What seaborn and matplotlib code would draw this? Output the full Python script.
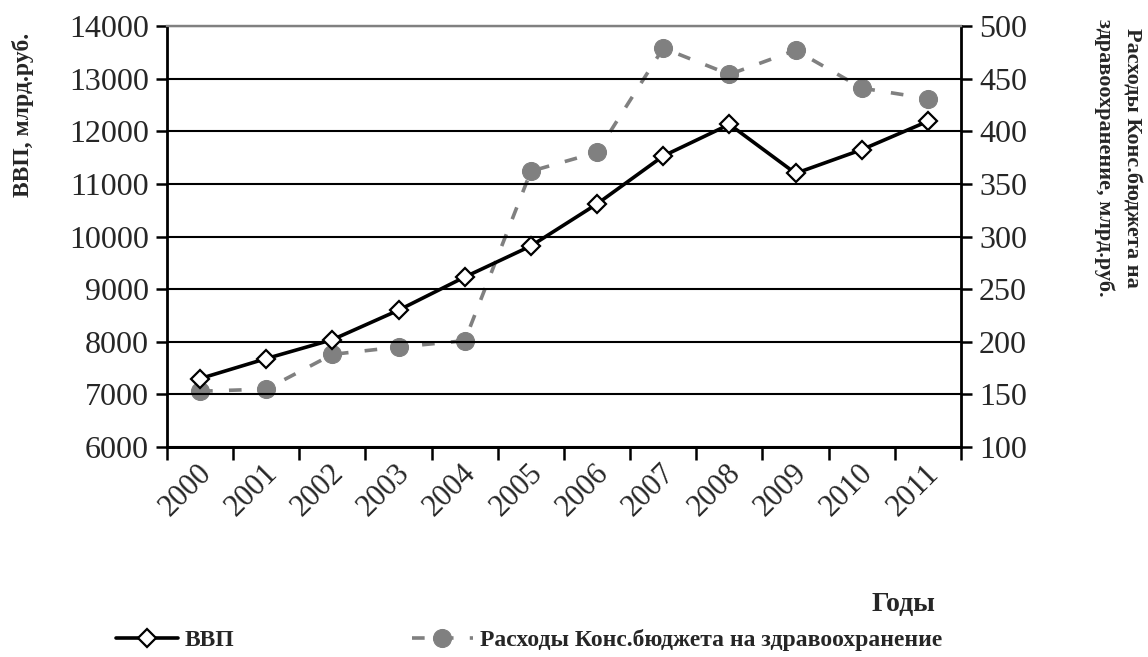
import matplotlib
matplotlib.use("Agg")
import matplotlib.pyplot as plt
import matplotlib.transforms as mtransforms
import seaborn as sns
import pandas as pd
import numpy as np

years = [2000, 2001, 2002, 2003, 2004, 2005, 2006, 2007, 2008, 2009, 2010, 2011]
gdp = [7300, 7680, 8040, 8600, 9230, 9820, 10620, 11530, 12130, 11200, 11650, 12190]
health = [153, 155, 188, 195, 201, 362, 380, 479, 454, 477, 441, 431]

gdp_label = "ВВП"
health_label = "Расходы Конс.бюджета на здравоохранение"
left_title = "ВВП, млрд.руб."
right_title = "Расходы Конс.бюджета на\nздравоохранение, млрд.руб."
x_title = "Годы"

sns.set_theme(style="white")
plt.rcParams["font.family"] = ["Liberation Serif", "DejaVu Serif"]

df = pd.DataFrame({"year": years, "gdp": gdp, "health": health})

fig = plt.figure(figsize=(11.48, 6.57), dpi=100)
ax = fig.add_axes([167 / 1148, 1 - 447 / 657, (961 - 167) / 1148, (447 - 26) / 657])
ax2 = ax.twinx()

sns.lineplot(data=df, x="year", y="health", ax=ax2, color="#808080", lw=2.6,
             marker="o", markersize=13, markeredgecolor="#808080",
             markerfacecolor="#808080", label=health_label, legend=False,
             dashes=False, zorder=3)
ax2.lines[0].set_dashes((3.5, 4.5))

sns.lineplot(data=df, x="year", y="gdp", ax=ax, color="black", lw=2.6,
             marker="D", markersize=9, markeredgecolor="black",
             markerfacecolor="white", markeredgewidth=1.6, label=gdp_label,
             legend=False, zorder=4)

ax.set_zorder(ax2.get_zorder() + 1)
ax.patch.set_visible(False)

ax.set_xlim(years[0] - 0.5, years[-1] + 0.5)
ax.set_ylim(6000, 14000)
ax2.set_ylim(100, 500)
ax.set_yticks(np.arange(6000, 14001, 1000))
ax2.set_yticks(np.arange(100, 501, 50))

# category boundaries as major ticks, labels at category centres
ax.set_xticks([y - 0.5 for y in years] + [years[-1] + 0.5])
ax.set_xticklabels([])
ax.set_xticks(years, minor=True)
ax.set_xticklabels([str(y) for y in years], minor=True, rotation=45,
                   ha="right", va="center", rotation_mode="anchor", fontsize=22)
ax.tick_params(axis="x", which="minor", length=0, pad=16)
ax.tick_params(axis="x", which="major", direction="out", length=9, width=1.8,
               color="black", bottom=True)
shift = mtransforms.ScaledTranslation(7 / 100, 0, fig.dpi_scale_trans)
for lab in ax.get_xticklabels(minor=True):
    lab.set_transform(lab.get_transform() + shift)

ax.tick_params(axis="y", direction="out", length=8, width=1.8, labelsize=23,
               left=True, color="black", pad=5)
ax2.tick_params(axis="y", direction="out", length=8, width=1.8, labelsize=23,
                right=True, color="black", pad=5)

ax.grid(axis="y", color="black", lw=1.5)
ax.grid(axis="x", visible=False)
ax2.grid(False)

for a in (ax, ax2):
    for s in ("left", "right", "bottom"):
        a.spines[s].set_color("black")
        a.spines[s].set_linewidth(2)
    a.spines["top"].set_color("#808080")
    a.spines["top"].set_linewidth(1.6)
    a.set_xlabel("")
    a.set_ylabel("")
ax.spines["right"].set_visible(False)
ax2.spines["left"].set_visible(False)

fig.text(23 / 1148, 1 - 115 / 657, left_title, rotation=90, ha="center",
         va="center", fontsize=17, fontweight="bold")
fig.text(1118 / 1148, 1 - 158 / 657, right_title, rotation=270, ha="center",
         va="center", fontsize=16, fontweight="bold", linespacing=1.45,
         multialignment="center")
fig.text(903 / 1148, 1 - 605 / 657, x_title, ha="center", va="center",
         fontsize=20, fontweight="bold")

h1 = ax.lines[0]
h2 = ax2.lines[0]
leg = fig.legend([h1, h2], [gdp_label, health_label], loc="center left",
                 bbox_to_anchor=(95 / 1148, 1 - 640 / 657), ncol=2,
                 frameon=False, handlelength=2.6, columnspacing=7.5,
                 handletextpad=0.3, prop={"size": 17, "weight": "bold"})

fig.savefig("out.png", dpi=100)
